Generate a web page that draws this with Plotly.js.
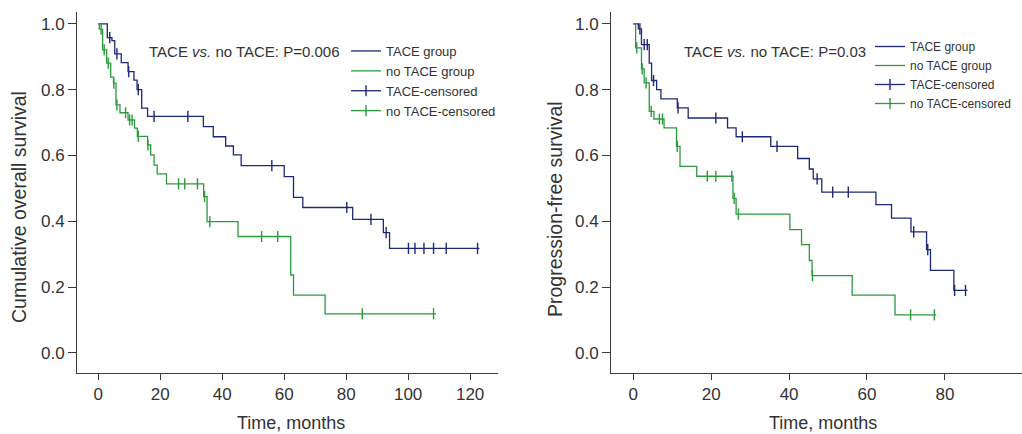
<!DOCTYPE html>
<html>
<head>
<meta charset="utf-8">
<script src="https://cdn.plot.ly/plotly-3.0.1.min.js"></script>
<style>html,body{margin:0;padding:0;background:#fff;}#chart{width:1022px;height:434px;}</style>
</head>
<body>
<div id="chart"></div>
<script>
// ---- Overall survival (left panel) ----
const osTaceTime   = [0, 2.9, 4.4, 5.3, 7.4, 9.6, 11.5, 12.5, 14.0, 15.9, 33.9, 37.1, 41.1, 43.6, 46.1, 60.0, 63.0, 66.0, 82.1, 92.0, 94.0, 123.0];
const osTaceSurv   = [1.0, 0.958, 0.949, 0.909, 0.882, 0.855, 0.829, 0.800, 0.744, 0.719, 0.688, 0.657, 0.629, 0.602, 0.569, 0.536, 0.473, 0.442, 0.406, 0.366, 0.318, 0.318];
const osTaceCens   = [3.7, 6.0, 9.8, 12.9, 18.0, 28.9, 56.0, 80.2, 88.0, 92.9, 100.1, 102.2, 105.1, 108.2, 112.3, 122.4];

const osNoTime     = [0, 0.3, 1.4, 2.7, 4.0, 4.9, 5.7, 7.0, 9.6, 11.7, 12.6, 15.9, 16.9, 18.0, 19.0, 22.0, 34.0, 35.1, 45.1, 62.1, 63.0, 73.2, 109.0];
const osNoSurv     = [1.0, 0.984, 0.921, 0.881, 0.838, 0.820, 0.754, 0.730, 0.708, 0.683, 0.658, 0.632, 0.602, 0.571, 0.544, 0.514, 0.475, 0.399, 0.354, 0.237, 0.176, 0.119, 0.119];
const osNoCens     = [0.9, 1.9, 3.2, 5.0, 6.0, 8.8, 10.1, 10.9, 12.9, 16.0, 25.9, 27.9, 32.0, 34.3, 36.0, 52.7, 57.9, 85.2, 108.2];

// ---- Progression-free survival (right panel) ----
const pfsTaceTime  = [0, 1.3, 2.1, 4.1, 4.7, 6.0, 7.1, 11.3, 14.1, 24.2, 26.4, 35.3, 42.2, 45.2, 46.2, 48.4, 62.3, 66.3, 71.3, 75.3, 76.3, 82.3, 85.8];
const pfsTaceSurv  = [1.0, 0.985, 0.937, 0.881, 0.828, 0.800, 0.772, 0.745, 0.714, 0.684, 0.657, 0.628, 0.591, 0.559, 0.529, 0.489, 0.451, 0.410, 0.368, 0.314, 0.251, 0.190, 0.190];
const pfsTaceCens  = [1.7, 2.8, 3.6, 5.2, 11.5, 21.2, 28.0, 36.9, 47.2, 51.2, 55.2, 72.0, 75.6, 82.5, 85.3];

const pfsNoTime    = [0, 0.6, 2.1, 2.8, 4.1, 5.3, 7.9, 11.1, 12.0, 16.3, 25.6, 26.4, 40.2, 43.2, 45.2, 45.9, 56.2, 67.2, 77.8];
const pfsNoSurv    = [1.0, 0.927, 0.863, 0.821, 0.734, 0.711, 0.684, 0.628, 0.567, 0.537, 0.470, 0.422, 0.375, 0.329, 0.281, 0.235, 0.176, 0.116, 0.116];
const pfsNoCens    = [0.9, 2.3, 3.3, 4.6, 6.7, 7.5, 11.3, 19.0, 21.2, 25.3, 25.9, 27.0, 46.0, 71.2, 77.3];

// ---- Texts ----
const seriesNames  = ['TACE group', 'no TACE group', 'TACE-censored', 'no TACE-censored'];
const pLabels      = ['TACE <i>vs.</i> no TACE: P=0.006', 'TACE <i>vs.</i> no TACE: P=0.03'];
const yTitles      = ['Cumulative overall survival', 'Progression-free survival'];
const xTitle       = 'Time, months';
const xTicksLeft   = [0, 20, 40, 60, 80, 100, 120];
const xTicksRight  = [0, 20, 40, 60, 80];
const yTicks       = [0, 0.2, 0.4, 0.6, 0.8, 1.0];

const NAVY = '#1c2878';
const GREEN = '#2b9a3d';
const AXC = '#3a3a3a';
const FONT = '"Liberation Sans", Arial, Helvetica, sans-serif';

function survAt(times, surv, t) {
  let s = surv[0];
  for (let i = 0; i < times.length; i++) { if (times[i] <= t) s = surv[i]; }
  return s;
}
function censorTrace(times, surv, cens, name, color, xa, ya, leg) {
  const x = [], y = [];
  cens.forEach((t, i) => { if (i) { x.push(null); y.push(null); } x.push(t); y.push(survAt(times, surv, t)); });
  return { x, y, name, type: 'scatter', mode: 'lines+markers', connectgaps: false,
    line: { color, width: 1.3 },
    marker: { symbol: 'line-ns', size: 8, line: { color, width: 1.4 }, color },
    xaxis: xa, yaxis: ya, legend: leg, hoverinfo: 'skip' };
}
function curveTrace(times, surv, name, color, xa, ya, leg) {
  return { x: times, y: surv, name, type: 'scatter', mode: 'lines',
    line: { shape: 'hv', color, width: 1.3 }, xaxis: xa, yaxis: ya, legend: leg, hoverinfo: 'skip' };
}

const data = [
  curveTrace(osTaceTime, osTaceSurv, seriesNames[0], NAVY, 'x', 'y', 'legend'),
  curveTrace(osNoTime, osNoSurv, seriesNames[1], GREEN, 'x', 'y', 'legend'),
  censorTrace(osTaceTime, osTaceSurv, osTaceCens, seriesNames[2], NAVY, 'x', 'y', 'legend'),
  censorTrace(osNoTime, osNoSurv, osNoCens, seriesNames[3], GREEN, 'x', 'y', 'legend'),
  curveTrace(pfsTaceTime, pfsTaceSurv, seriesNames[0], NAVY, 'x2', 'y2', 'legend2'),
  curveTrace(pfsNoTime, pfsNoSurv, seriesNames[1], GREEN, 'x2', 'y2', 'legend2'),
  censorTrace(pfsTaceTime, pfsTaceSurv, pfsTaceCens, seriesNames[2], NAVY, 'x2', 'y2', 'legend2'),
  censorTrace(pfsNoTime, pfsNoSurv, pfsNoCens, seriesNames[3], GREEN, 'x2', 'y2', 'legend2')
];

const W = 1022, H = 434;
const axBase = {
  ticks: 'outside', tickcolor: AXC, tickwidth: 1, showline: true, linecolor: AXC, linewidth: 1,
  showgrid: false, zeroline: false, tickfont: { size: 17, color: '#333', family: FONT }, fixedrange: true
};
const yDom = [61 / H, (H - 11.7) / H];

const layout = {
  width: W, height: H,
  margin: { l: 0, r: 0, t: 0, b: 0, autoexpand: false },
  paper_bgcolor: '#fff', plot_bgcolor: '#fff',
  font: { family: FONT, color: '#333', size: 17 },
  showlegend: true,
  xaxis: Object.assign({}, axBase, { domain: [77 / W, 498 / W], range: [-6.88, 129.0], tickvals: xTicksLeft, ticklen: 6, anchor: 'y' }),
  yaxis: Object.assign({}, axBase, { domain: yDom, range: [-0.0608, 1.037], tickvals: yTicks, tickformat: '.1f', ticklen: 8, anchor: 'x' }),
  xaxis2: Object.assign({}, axBase, { domain: [611 / W, 1], range: [-5.72, 99.8], tickvals: xTicksRight, ticklen: 6, anchor: 'y2' }),
  yaxis2: Object.assign({}, axBase, { domain: yDom, range: [-0.0608, 1.037], tickvals: yTicks, tickformat: '.1f', ticklen: 8, anchor: 'x2' }),
  legend: { x: 346 / W, xanchor: 'left', y: (H - 36) / H, yanchor: 'top', bgcolor: 'rgba(0,0,0,0)',
    font: { size: 13, color: '#333', family: FONT }, tracegroupgap: 0, borderwidth: 0 },
  legend2: { x: 870 / W, xanchor: 'left', y: (H - 32) / H, yanchor: 'top', bgcolor: 'rgba(0,0,0,0)',
    font: { size: 12, color: '#333', family: FONT }, tracegroupgap: 0, borderwidth: 0 },
  annotations: [
    { text: pLabels[0], xref: 'paper', yref: 'paper', x: 146.7 / W, y: (H - 51.7) / H, xanchor: 'left', yanchor: 'middle', showarrow: false, font: { size: 15, color: '#333' } },
    { text: pLabels[1], xref: 'paper', yref: 'paper', x: 681.7 / W, y: (H - 51.7) / H, xanchor: 'left', yanchor: 'middle', showarrow: false, font: { size: 15, color: '#333' } },
    { text: yTitles[0], xref: 'paper', yref: 'paper', x: 19 / W, y: (H - 207) / H, xanchor: 'center', yanchor: 'middle', textangle: -90, showarrow: false, font: { size: 19.5, color: '#333' } },
    { text: yTitles[1], xref: 'paper', yref: 'paper', x: 555 / W, y: (H - 209) / H, xanchor: 'center', yanchor: 'middle', textangle: -90, showarrow: false, font: { size: 19.5, color: '#333' } },
    { text: xTitle, xref: 'paper', yref: 'paper', x: 291 / W, y: (H - 423) / H, xanchor: 'center', yanchor: 'middle', showarrow: false, font: { size: 18, color: '#333' } },
    { text: xTitle, xref: 'paper', yref: 'paper', x: 822.5 / W, y: (H - 423) / H, xanchor: 'center', yanchor: 'middle', showarrow: false, font: { size: 18, color: '#333' } }
  ]
};

Plotly.newPlot('chart', data, layout, { displayModeBar: false, staticPlot: true });
</script>
</body>
</html>
